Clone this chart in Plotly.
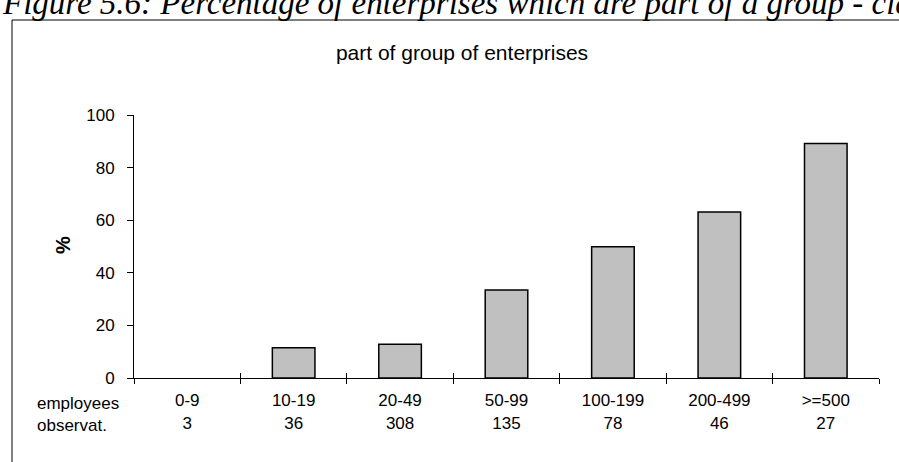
import plotly.graph_objects as go

# data
size_classes = ["0-9", "10-19", "20-49", "50-99", "100-199", "200-499", ">=500"]
observations = [3, 36, 308, 135, 78, 46, 27]
pct_in_group = [0, 11.5, 12.8, 33.5, 49.9, 63.1, 89.2]
y_ticks = [0, 20, 40, 60, 80, 100]

W, H = 899, 462
L, R, T, B = 134, 20, 115, 84
plot_w = W - L - R
plot_h = H - T - B

tick_text = [f"{c}<br>{n}" for c, n in zip(size_classes, observations)]
font = dict(family="Liberation Sans, Arial", size=17, color="black")
# an empty bar leaves no outline on the axis in the source
outline_w = [1.5 if v > 0 else 0 for v in pct_in_group]

fig = go.Figure()
fig.add_trace(go.Bar(
    x=size_classes,
    y=pct_in_group,
    width=0.4,
    marker=dict(color="#C0C0C0", line=dict(color="black", width=outline_w)),
    hoverinfo="skip",
    showlegend=False,
))
# invisible trace so the overlay axis (inside half of the crossing ticks) exists
fig.add_trace(go.Scatter(
    x=size_classes, y=pct_in_group, mode="markers", marker=dict(opacity=0),
    xaxis="x2", hoverinfo="skip", showlegend=False,
))

fig.update_layout(
    width=W, height=H,
    margin=dict(l=L, r=R, t=T, b=B),
    paper_bgcolor="white",
    plot_bgcolor="white",
    font=font,
    title=dict(text="part of group of enterprises", x=462 / W, xanchor="center",
               y=1 - 53 / H, yanchor="middle", font=dict(size=21)),
    xaxis=dict(
        type="category", categoryorder="array", categoryarray=size_classes,
        tickmode="array", tickvals=size_classes, ticktext=tick_text,
        tickson="boundaries", ticks="outside", ticklen=5, tickcolor="black",
        showline=True, linecolor="black", linewidth=1,
        showgrid=False, zeroline=False, ticklabelstandoff=7,
        range=[-0.5, 6.5],
    ),
    xaxis2=dict(
        type="category", overlaying="x", categoryorder="array", categoryarray=size_classes,
        tickson="boundaries", ticks="inside", ticklen=5, tickcolor="black",
        showticklabels=False, showline=False, showgrid=False, zeroline=False,
        range=[-0.5, 6.5], side="bottom",
    ),
    yaxis=dict(
        range=[0, 100], tickvals=y_ticks, ticks="outside", ticklen=6, tickcolor="black",
        showline=True, linecolor="black", linewidth=1,
        showgrid=False, zeroline=False, ticklabelstandoff=9,
    ),
)

# row headers for the two-line category labels
fig.add_annotation(
    text="employees<br>observat.", align="left",
    xref="paper", yref="paper", x=(35 - L) / plot_w, y=0,
    xanchor="left", yanchor="top", yshift=-14, showarrow=False,
)
# y axis title
fig.add_annotation(
    text="<b>%</b>", textangle=-90, xref="paper", yref="paper",
    x=(63 - L) / plot_w, y=(H - B - 245) / plot_h,
    xanchor="center", yanchor="middle", showarrow=False, font=dict(size=20),
)
# caption above the chart frame (cut off at the top in the source)
fig.add_annotation(
    text="Figure 5.6: Percentage of enterprises which are part of a group - classified by size",
    xref="paper", yref="paper", x=(0 - L) / plot_w, y=1, xanchor="left", yanchor="bottom",
    yshift=T - 23, showarrow=False,
    font=dict(family="Liberation Serif, Times New Roman", size=33, style="italic"),
)
# chart frame
fig.add_shape(
    type="rect", xref="paper", yref="paper",
    x0=(12 - L) / plot_w, x1=1.5, y0=-1, y1=(H - B - 20) / plot_h,
    line=dict(color="black", width=1), fillcolor="rgba(0,0,0,0)", layer="below",
)

fig.write_html("out.html", config={"displayModeBar": False},
               post_script="document.body.style.margin='0';")
